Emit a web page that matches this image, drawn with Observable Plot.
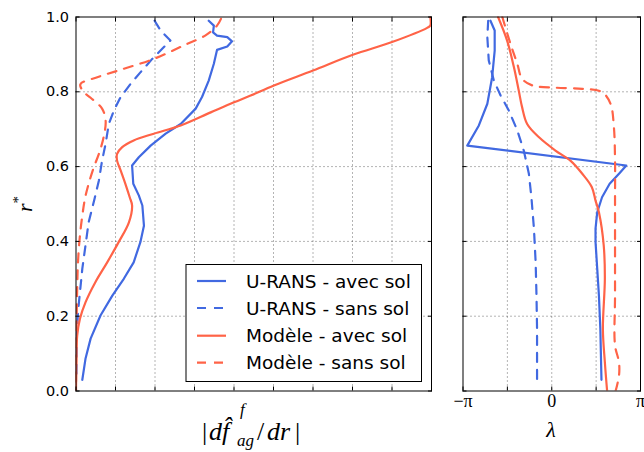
<!DOCTYPE html>
<html><head><meta charset="utf-8">
<script src="https://cdn.jsdelivr.net/npm/d3@7"></script>
<script src="https://cdn.jsdelivr.net/npm/@observablehq/plot@0.6"></script>
<style>
html,body{margin:0;padding:0;background:#fff;}
#wrap{position:relative;width:644px;height:452px;overflow:hidden;background:#fff;}
#wrap > svg{position:absolute;top:0;}
</style></head><body><div id="wrap"></div>
<script>
// ---- tick values / labels ----
const rTicks = [0, 0.2, 0.4, 0.6, 0.8, 1.0];
const rTickLabels = ["0.0", "0.2", "0.4", "0.6", "0.8", "1.0"];
const gradTicks = [0, 1, 2, 3, 4, 5, 6, 7, 8, 9];
const lambdaTicks = [-Math.PI, -Math.PI / 2, 0, Math.PI / 2, Math.PI];
const lambdaTickLabels = ["−π", "", "0", "", "π"];

// ---- series ----
const seriesNames = ["U-RANS - avec sol", "U-RANS - sans sol", "Modèle - avec sol", "Modèle - sans sol"];
const seriesColors = ["#4169e1", "#4169e1", "#ff6347", "#ff6347"];
const seriesDashed = [false, true, false, true];

// left panel: [r*, |d f/dr|]
const gradUransAvec = [[0.99,3.36],[0.977,3.49],[0.959,3.47],[0.950,3.57],[0.946,3.83],[0.935,3.95],[0.921,3.83],[0.912,3.57],[0.875,3.49],[0.830,3.36],[0.786,3.19],[0.755,3.03],[0.714,2.65],[0.688,2.27],[0.656,1.89],[0.625,1.59],[0.603,1.42],[0.554,1.45],[0.523,1.59],[0.496,1.68],[0.442,1.72],[0.398,1.63],[0.344,1.46],[0.300,1.21],[0.255,0.92],[0.202,0.62],[0.140,0.37],[0.086,0.24],[0.030,0.16]];
const gradUransSans = [[0.99,1.99],[0.964,2.14],[0.937,2.39],[0.888,1.93],[0.852,1.63],[0.821,1.38],[0.786,1.13],[0.750,0.96],[0.714,0.83],[0.661,0.75],[0.616,0.66],[0.563,0.58],[0.514,0.47],[0.451,0.32],[0.389,0.24],[0.327,0.16],[0.264,0.10],[0.211,0.05],[0.150,0.02],[0.030,0.01]];
const gradModeleAvec = [[1.0,8.97],[0.977,8.97],[0.971,8.89],[0.933,8.0],[0.899,7.01],[0.857,6.0],[0.817,5.01],[0.790,4.42],[0.772,4.0],[0.745,3.41],[0.710,2.65],[0.688,1.97],[0.670,1.46],[0.652,1.17],[0.634,1.04],[0.616,1.04],[0.590,1.13],[0.554,1.25],[0.518,1.36],[0.496,1.42],[0.451,1.34],[0.398,1.08],[0.344,0.79],[0.291,0.49],[0.237,0.24],[0.193,0.10],[0.148,0.03],[0.077,0.01],[0.0,0.0]];
const gradModeleSans = [[0.995,3.67],[0.977,3.57],[0.951,3.28],[0.924,2.73],[0.888,1.97],[0.859,1.13],[0.839,0.54],[0.820,0.11],[0.799,0.20],[0.784,0.37],[0.755,0.66],[0.723,0.75],[0.679,0.70],[0.634,0.58],[0.598,0.45],[0.554,0.32],[0.516,0.23],[0.469,0.16],[0.416,0.10],[0.344,0.05],[0.273,0.03],[0.150,0.01],[0.0,0.0]];

// right panel: [r*, lambda (rad)]
const lamUransAvec = [[0.99,-2.17],[0.964,-2.02],[0.910,-2.02],[0.839,-2.11],[0.768,-2.28],[0.710,-2.58],[0.656,-2.99],[0.603,2.64],[0.581,2.38],[0.554,2.05],[0.518,1.78],[0.478,1.61],[0.434,1.55],[0.398,1.55],[0.327,1.61],[0.255,1.67],[0.166,1.72],[0.030,1.76]];
const lamUransSans = [[0.99,-2.25],[0.946,-2.28],[0.884,-2.23],[0.830,-2.05],[0.790,-1.81],[0.750,-1.52],[0.697,-1.22],[0.643,-0.99],[0.581,-0.81],[0.518,-0.72],[0.434,-0.63],[0.344,-0.57],[0.255,-0.54],[0.166,-0.52],[0.030,-0.52]];
const lamModeleAvec = [[1.0,-1.90],[0.937,-1.58],[0.866,-1.34],[0.804,-1.17],[0.759,-1.05],[0.714,-0.87],[0.679,-0.46],[0.643,0.13],[0.616,0.66],[0.581,1.08],[0.545,1.42],[0.509,1.55],[0.478,1.67],[0.389,1.84],[0.300,1.88],[0.166,1.81],[0.077,1.88],[0.0,1.96]];
const lamModeleSans = [[1.0,-1.75],[0.928,-1.46],[0.875,-1.22],[0.835,-1.05],[0.817,-0.69],[0.811,0.13],[0.808,1.08],[0.799,1.78],[0.768,2.08],[0.705,2.20],[0.616,2.24],[0.509,2.24],[0.255,2.24],[0.122,2.24],[0.077,2.38],[0.041,2.38],[0.0,2.26]];

const leftSeries = [gradUransAvec, gradUransSans, gradModeleAvec, gradModeleSans];
const rightSeries = [lamUransAvec, lamUransSans, lamModeleAvec, lamModeleSans];

// ---- helpers ----
const gridStyle = {stroke: "#000", strokeOpacity: 0.85, strokeWidth: 0.7, strokeDasharray: "1,3"};
function lineMarks(seriesList) {
  return seriesList.map((pairs, i) => Plot.line(
    pairs.map(([r, v]) => ({r, v})),
    {x: "v", y: "r", stroke: seriesColors[i], strokeWidth: 2.2,
     strokeDasharray: seriesDashed[i] ? "9,8" : null,
     curve: i >= 2 ? "catmull-rom" : "linear", clip: true}
  ));
}
function tickMarks(xTicks) {
  return [
    Plot.axisY(rTicks, {anchor: "left", tickSize: 4, inset: 4, fill: "none", label: null}),
    Plot.axisY(rTicks, {anchor: "right", tickSize: 4, inset: 4, fill: "none", label: null}),
    Plot.axisX(xTicks, {anchor: "bottom", tickSize: 4, inset: 4, fill: "none", label: null}),
    Plot.axisX(xTicks, {anchor: "top", tickSize: 4, inset: 4, fill: "none", label: null})
  ];
}
const common = {
  height: 452, marginTop: 16.5, marginBottom: 61.5,
  y: {domain: [0, 1]},
  style: {background: "transparent", color: "#000", fontFamily: "DejaVu Sans", fontSize: "14.5px", overflow: "visible"}
};

const left = Plot.plot({
  ...common,
  width: 440, marginLeft: 75.5, marginRight: 9,
  x: {domain: [0, 9]},
  marks: [
    Plot.gridX(gradTicks.slice(1, -1), gridStyle),
    Plot.gridY(rTicks.slice(1, -1), gridStyle),
    ...lineMarks(leftSeries),
    ...tickMarks(gradTicks),
    Plot.axisY(rTicks, {anchor: "left", tickSize: 0, tickPadding: 7, fontSize: 14.5,
      tickFormat: d => rTickLabels[rTicks.indexOf(d)], label: null}),
    Plot.frame({stroke: "#000", strokeWidth: 1})
  ]
});
left.style.left = "0px";

const right = Plot.plot({
  ...common,
  width: 204, marginLeft: 22.5, marginRight: 4,
  x: {domain: [-Math.PI, Math.PI]},
  marks: [
    Plot.gridX(lambdaTicks.slice(1, -1), gridStyle),
    Plot.gridY(rTicks.slice(1, -1), gridStyle),
    ...lineMarks(rightSeries),
    ...tickMarks(lambdaTicks),
    Plot.axisX(lambdaTicks, {anchor: "bottom", tickSize: 0, tickPadding: 3, fontSize: 18,
      fontFamily: "Liberation Serif",
      tickFormat: d => lambdaTickLabels[lambdaTicks.indexOf(d)], label: null}),
    Plot.frame({stroke: "#000", strokeWidth: 1})
  ]
});
right.style.left = "440px";

const wrap = document.getElementById("wrap");
wrap.appendChild(left);
wrap.appendChild(right);

// ---- overlay: axis titles + legend ----
const ns = "http://www.w3.org/2000/svg";
const ov = document.createElementNS(ns, "svg");
ov.setAttribute("width", 644); ov.setAttribute("height", 452);
ov.style.left = "0px"; ov.style.pointerEvents = "none";
wrap.appendChild(ov);
function el(tag, attrs, text) {
  const e = document.createElementNS(ns, tag);
  for (const k in attrs) e.setAttribute(k, attrs[k]);
  if (text != null) e.textContent = text;
  ov.appendChild(e);
  return e;
}
const serif = "Liberation Serif, DejaVu Serif, serif";
// y label r*
const ry = el("text", {transform: "translate(32,204) rotate(-90)", "text-anchor": "middle",
  "font-family": serif, "font-style": "italic", "font-size": 22});
ry.innerHTML = 'r<tspan dy="-9" font-size="15" font-style="normal">*</tspan>';
// x label |d f^f_ag / dr|
el("text", {x: 202, y: 440, "font-family": serif, "font-size": 26}, "|");
el("text", {x: 209, y: 440, "font-family": serif, "font-style": "italic", "font-size": 26}, "d");
el("text", {x: 222, y: 440, "font-family": serif, "font-style": "italic", "font-size": 26}, "f\u0302");
el("text", {x: 240, y: 415, "font-family": serif, "font-style": "italic", "font-size": 17}, "f");
el("text", {x: 237, y: 446, "font-family": serif, "font-style": "italic", "font-size": 17}, "ag");
el("text", {x: 257, y: 440, "font-family": serif, "font-size": 26}, "/");
el("text", {x: 267, y: 440, "font-family": serif, "font-style": "italic", "font-size": 26}, "dr");
el("text", {x: 295, y: 440, "font-family": serif, "font-size": 26}, "|");
// lambda label
el("text", {x: 551, y: 437, "text-anchor": "middle", "font-family": serif, "font-style": "italic", "font-size": 22}, "λ");

// legend
el("rect", {x: 186, y: 264.5, width: 235.5, height: 117, fill: "#fff", stroke: "#000", "stroke-width": 1});
const legendRows = [281, 308, 335.7, 362.7];
seriesNames.forEach((name, i) => {
  const y = legendRows[i];
  const l = el("line", {x1: 197, x2: 226, y1: y, y2: y, stroke: seriesColors[i], "stroke-width": 2.2});
  if (seriesDashed[i]) l.setAttribute("stroke-dasharray", "9,8");
  el("text", {x: 246, y: y + 6.5, "font-family": "DejaVu Sans", "font-size": 18.5, fill: "#000"}, name);
});
</script></body></html>
